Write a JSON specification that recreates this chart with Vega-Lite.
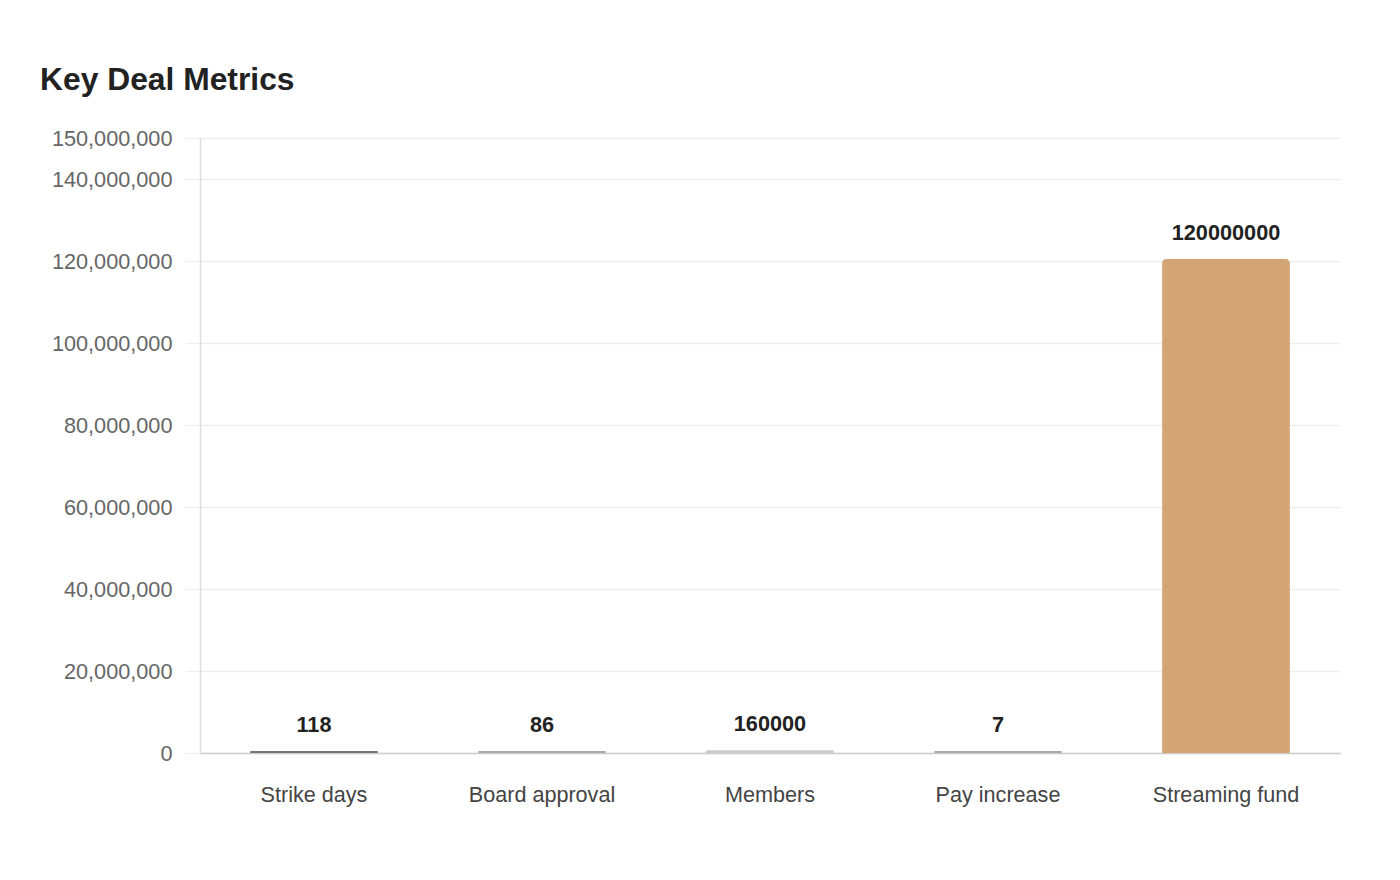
{
  "$schema": "https://vega.github.io/schema/vega-lite/v6.json",
  "width": 1140,
  "height": 615,
  "autosize": {"type": "none"},
  "padding": {"left": 200, "top": 138, "right": 60, "bottom": 127},
  "background": "#ffffff",
  "title": {
    "text": "Key Deal Metrics",
    "anchor": "start",
    "frame": "group",
    "dx": -160,
    "offset": 31,
    "fontSize": 31.8,
    "fontWeight": "bold",
    "font": "Liberation Sans",
    "color": "#222222"
  },
  "data": {
    "values": [
      {"metric": "Strike days", "value": 118, "color": "#777777"},
      {"metric": "Board approval", "value": 86, "color": "#aaaaaa"},
      {"metric": "Members", "value": 160000, "color": "#cccccc"},
      {"metric": "Pay increase", "value": 7, "color": "#aaaaaa"},
      {"metric": "Streaming fund", "value": 120000000, "color": "#d4a574"}
    ]
  },
  "config": {
    "view": {"stroke": null},
    "font": "Liberation Sans"
  },
  "encoding": {
    "x": {
      "field": "metric",
      "type": "nominal",
      "sort": null,
      "scale": {"paddingInner": 0.44, "paddingOuter": 0.22},
      "axis": {
        "title": null,
        "labelAngle": 0,
        "labelFontSize": 21.6,
        "labelColor": "#444444",
        "labelPadding": 31,
        "ticks": false,
        "domainColor": "#cccccc",
        "domainWidth": 1.5
      }
    },
    "y": {
      "field": "value",
      "type": "quantitative",
      "scale": {"domain": [0, 150000000], "nice": false},
      "axis": {
        "title": null,
        "values": [0, 20000000, 40000000, 60000000, 80000000, 100000000, 120000000, 140000000, 150000000],
        "format": ",d",
        "labelFontSize": 21.7,
        "labelColor": "#666666",
        "labelPadding": 13,
        "tickSize": 15,
        "tickColor": "#eeeeee",
        "gridColor": "#eeeeee",
        "gridWidth": 1.5,
        "domainColor": "#dddddd",
        "domainWidth": 1.5
      }
    }
  },
  "layer": [
    {
      "mark": {
        "type": "bar",
        "cornerRadiusTopLeft": 4,
        "cornerRadiusTopRight": 4,
        "yOffset": -2,
        "y2Offset": 0
      },
      "encoding": {
        "y2": {"datum": 0},
        "color": {"field": "color", "type": "nominal", "scale": null}
      }
    },
    {
      "mark": {
        "type": "text",
        "dy": -28,
        "fontSize": 21.7,
        "fontWeight": "bold",
        "color": "#222222",
        "baseline": "middle"
      },
      "encoding": {
        "text": {"field": "value", "type": "quantitative", "format": "d"}
      }
    }
  ]
}
